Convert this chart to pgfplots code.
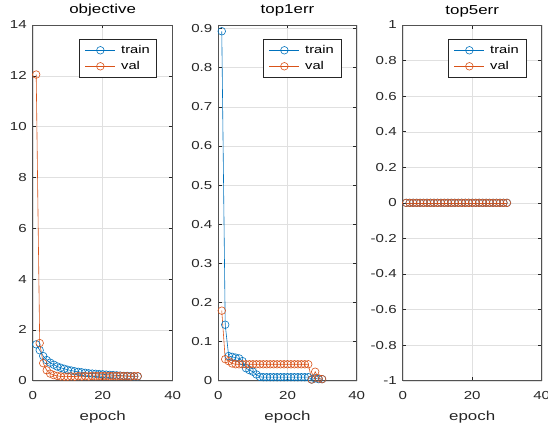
\documentclass[border=0pt]{standalone}
\usepackage{fontspec}
\setmainfont{Liberation Sans}[FakeStretch=1.3]
\usepackage{pgfplots}
\pgfplotsset{compat=1.18}
\definecolor{mblue}{rgb}{0,0.447,0.741}
\definecolor{morange}{rgb}{0.85,0.325,0.098}
\definecolor{axgray}{rgb}{0.15,0.15,0.15}

% objective
\pgfplotstableread{
ep train val
1 1.43 12.05
2 1.20 1.48
3 0.97 0.69
4 0.81 0.41
5 0.71 0.28
6 0.63 0.22
7 0.56 0.19
8 0.51 0.17
9 0.47 0.16
10 0.43 0.16
11 0.40 0.17
12 0.37 0.16
13 0.35 0.18
14 0.33 0.17
15 0.31 0.18
16 0.29 0.17
17 0.28 0.19
18 0.27 0.18
19 0.26 0.19
20 0.25 0.18
21 0.24 0.19
22 0.23 0.18
23 0.22 0.19
24 0.21 0.18
25 0.20 0.19
26 0.19 0.18
27 0.19 0.18
28 0.18 0.17
29 0.17 0.18
30 0.17 0.18
}\objdata

% top1err
\pgfplotstableread{
ep train val
1 0.893 0.179
2 0.143 0.055
3 0.063 0.050
4 0.061 0.044
5 0.059 0.042
6 0.057 0.042
7 0.050 0.042
8 0.032 0.042
9 0.027 0.042
10 0.023 0.042
11 0.016 0.042
12 0.010 0.042
13 0.009 0.042
14 0.009 0.042
15 0.009 0.042
16 0.009 0.042
17 0.009 0.042
18 0.009 0.042
19 0.009 0.042
20 0.009 0.042
21 0.009 0.042
22 0.009 0.042
23 0.009 0.042
24 0.009 0.042
25 0.009 0.042
26 0.009 0.042
27 0.003 0.003
28 0.006 0.023
29 0.004 0.006
30 0.004 0.004
}\topone

% top5err
\pgfplotstableread{
ep train val
1 0 0
2 0 0
3 0 0
4 0 0
5 0 0
6 0 0
7 0 0
8 0 0
9 0 0
10 0 0
11 0 0
12 0 0
13 0 0
14 0 0
15 0 0
16 0 0
17 0 0
18 0 0
19 0 0
20 0 0
21 0 0
22 0 0
23 0 0
24 0 0
25 0 0
26 0 0
27 0 0
28 0 0
29 0 0
30 0 0
}\topfive

\pgfplotsset{mstyle/.style={
  scale only axis, height=355.7pt, anchor=south west,
  xmin=0, xmax=40, xtick={0,20,40},
  grid=major, grid style={color=black!12, line width=0.4pt},
  axis line style={color=axgray!80, line width=0.5pt},
  tick style={color=axgray, line width=0.5pt},
  tick align=inside, major tick length=3.5pt,
  xtick pos=both, ytick pos=both,
  xticklabel pos=bottom, yticklabel pos=left,
  /pgf/number format/assume math mode=true,
  ticklabel style={font=\fontsize{11.6}{13}\selectfont, text=axgray},
  xticklabel style={yshift=-7pt},
  yticklabel style={xshift=-2.5pt},
  title style={font=\fontsize{13}{15}\selectfont, text=black,
    at={(0.5,1)}, anchor=base, yshift=5pt},
  xlabel={epoch}, xlabel style={font=\fontsize{13}{15}\selectfont, text=axgray,
    at={(0.5,0)}, anchor=base, yshift=-39.3pt},
  legend style={at={(1,1)}, anchor=north east, xshift=-15.7pt, yshift=-14.3pt,
    draw=axgray, line width=0.5pt, font=\fontsize{11.3}{13}\selectfont,
    inner xsep=5.5pt, inner ysep=4pt, row sep=2.5pt, column sep=4pt,
    nodes={inner sep=1.5pt, text height=8pt, text depth=2.5pt}, text=black},
  legend cell align=left,
  legend image code/.code={\draw[mark repeat=2,mark phase=2] plot coordinates {(0pt,0pt) (15pt,0pt) (30pt,0pt)};},
  every axis plot/.append style={line width=0.6pt, mark=o, mark size=3.8pt},
}}

\begin{document}
\begin{tikzpicture}
\useasboundingbox (0,0) rectangle (548pt,426pt);

\begin{axis}[mstyle, at={(32.7pt,45.3pt)}, width=140pt,
  title={objective}, ymin=0, ymax=14, ytick={0,2,...,14}]
\addplot[mblue] table[x=ep,y=train] {\objdata};
\addplot[morange] table[x=ep,y=val] {\objdata};
\legend{train,val}
\end{axis}

\begin{axis}[mstyle, at={(218.3pt,45.3pt)}, width=138.4pt,
  title={top1err}, ymin=0, ymax=0.909,
  ytick={0,0.1,...,0.9},
  yticklabels={0,0.1,0.2,0.3,0.4,0.5,0.6,0.7,0.8,0.9}]
\addplot[mblue] table[x=ep,y=train] {\topone};
\addplot[morange] table[x=ep,y=val] {\topone};
\legend{train,val}
\end{axis}

\begin{axis}[mstyle, at={(402.7pt,45.3pt)}, width=139pt,
  title={top5err}, ymin=-1, ymax=1,
  ytick={-1,-0.8,-0.6,-0.4,-0.2,0,0.2,0.4,0.6,0.8,1},
  yticklabels={-1,-0.8,-0.6,-0.4,-0.2,0,0.2,0.4,0.6,0.8,1}]
\addplot[mblue] table[x=ep,y=train] {\topfive};
\addplot[morange] table[x=ep,y=val] {\topfive};
\legend{train,val}
\end{axis}
\end{tikzpicture}
\end{document}
